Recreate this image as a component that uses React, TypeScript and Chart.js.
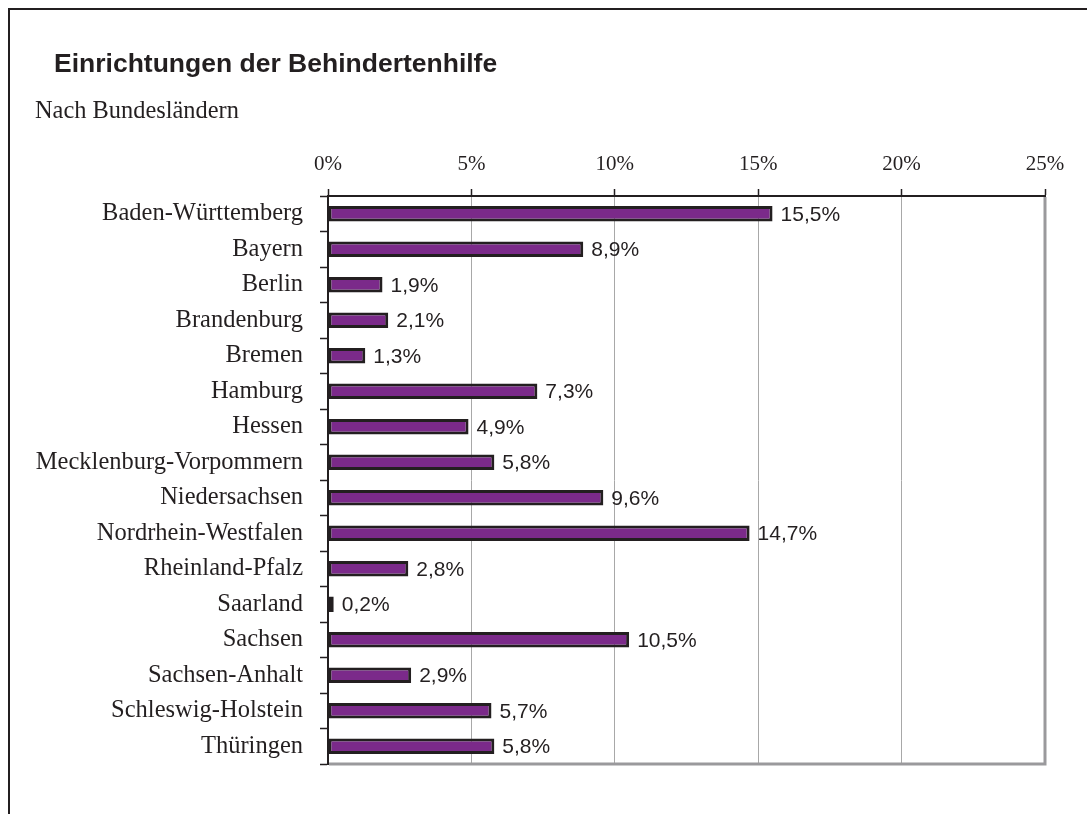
import React, { useEffect, useRef } from "react";
import { Chart, registerables } from "chart.js";

Chart.register(...registerables);

const TITLE = "Einrichtungen der Behindertenhilfe";
const SUBTITLE = "Nach Bundesländern";

const categories = [
  "Baden-Württemberg",
  "Bayern",
  "Berlin",
  "Brandenburg",
  "Bremen",
  "Hamburg",
  "Hessen",
  "Mecklenburg-Vorpommern",
  "Niedersachsen",
  "Nordrhein-Westfalen",
  "Rheinland-Pfalz",
  "Saarland",
  "Sachsen",
  "Sachsen-Anhalt",
  "Schleswig-Holstein",
  "Thüringen",
];

const shares = [15.5, 8.9, 1.9, 2.1, 1.3, 7.3, 4.9, 5.8, 9.6, 14.7, 2.8, 0.2, 10.5, 2.9, 5.7, 5.8];

const axisMin = 0;
const axisMax = 25;
const axisStep = 5;

const DARK = "#231f20";
const PURPLE = "#7b2a8a";
const GRID = "#a8a8a8";
const FRAME_GRAY = "#9a999c";

const fmt = (v: number) => v.toFixed(1).replace(".", ",") + "%";

const valueLabels = {
  id: "valueLabels",
  afterDatasetsDraw(chart: any) {
    const ctx = chart.ctx;
    const meta = chart.getDatasetMeta(0);
    ctx.save();
    ctx.font = "21px 'Liberation Sans', Arial, sans-serif";
    ctx.fillStyle = DARK;
    ctx.textAlign = "left";
    ctx.textBaseline = "middle";
    meta.data.forEach((bar: any, i: number) => {
      const v = chart.data.datasets[0].data[i] as number;
      ctx.fillText(fmt(v), bar.x + 8, bar.y + 1);
    });
    ctx.restore();
  },
};

const plotFrame = {
  id: "plotFrame",
  afterDraw(chart: any) {
    const { ctx, chartArea } = chart;
    ctx.save();
    ctx.strokeStyle = FRAME_GRAY;
    ctx.lineWidth = 3;
    ctx.beginPath();
    ctx.moveTo(chartArea.left + 1, chartArea.bottom);
    ctx.lineTo(chartArea.right + 1.5, chartArea.bottom);
    ctx.moveTo(chartArea.right, chartArea.top + 1);
    ctx.lineTo(chartArea.right, chartArea.bottom + 1.5);
    ctx.stroke();
    ctx.restore();
  },
};

export default function App() {
  const canvasRef = useRef<HTMLCanvasElement | null>(null);

  useEffect(() => {
    if (!canvasRef.current) return;
    const chart = new Chart(canvasRef.current, {
      type: "bar",
      data: {
        labels: categories,
        datasets: [
          {
            data: shares,
            backgroundColor: PURPLE,
            borderColor: DARK,
            borderWidth: 3,
            borderSkipped: false,
            categoryPercentage: 0.44,
            barPercentage: 1,
          },
        ],
      },
      options: {
        indexAxis: "y",
        responsive: false,
        animation: false,
        devicePixelRatio: 1,
        layout: { padding: { left: 0, top: 0, right: 42, bottom: 50 } },
        plugins: {
          legend: { display: false },
          tooltip: { enabled: false },
          title: { display: false },
        },
        scales: {
          x: {
            position: "top",
            min: axisMin,
            max: axisMax,
            ticks: {
              stepSize: axisStep,
              padding: 12,
              color: DARK,
              font: { family: "'Liberation Serif', 'Times New Roman', serif", size: 21 },
              callback: (v: any) => v + "%",
            },
            grid: {
              color: GRID,
              lineWidth: 1,
              tickColor: DARK,
              tickLength: 7,
              tickWidth: 1.5,
            },
            border: { color: DARK, width: 2 },
            afterFit: (scale: any) => {
              scale.height = 196;
            },
          },
          y: {
            type: "category",
            ticks: {
              padding: 17,
              color: DARK,
              font: { family: "'Liberation Serif', 'Times New Roman', serif", size: 24.5 },
            },
            grid: {
              offset: true,
              drawOnChartArea: false,
              tickColor: DARK,
              tickLength: 8,
              tickWidth: 1.5,
            },
            border: { color: DARK, width: 2 },
            afterFit: (scale: any) => {
              scale.width = 328;
            },
          },
        },
      },
      plugins: [valueLabels, plotFrame],
    });
    return () => chart.destroy();
  }, []);

  return (
    <div
      style={{
        position: "fixed",
        left: 0,
        top: 0,
        width: 1087,
        height: 814,
        overflow: "hidden",
        background: "#ffffff",
      }}
    >
      <canvas
        ref={canvasRef}
        width={1087}
        height={814}
        style={{ position: "absolute", left: 0, top: 0, width: 1087, height: 814 }}
      />
      <div
        style={{
          position: "absolute",
          left: 8,
          top: 8,
          width: 1200,
          height: 1000,
          borderLeft: `2px solid ${DARK}`,
          borderTop: `2px solid ${DARK}`,
          pointerEvents: "none",
        }}
      />
      <div
        style={{
          position: "absolute",
          left: 54,
          top: 50,
          font: "bold 26.5px 'Liberation Sans', Arial, sans-serif",
          lineHeight: "26.5px",
          color: DARK,
          whiteSpace: "nowrap",
        }}
      >
        {TITLE}
      </div>
      <div
        style={{
          position: "absolute",
          left: 35,
          top: 98,
          font: "24.4px 'Liberation Serif', 'Times New Roman', serif",
          lineHeight: "24.4px",
          color: DARK,
          whiteSpace: "nowrap",
        }}
      >
        {SUBTITLE}
      </div>
    </div>
  );
}
